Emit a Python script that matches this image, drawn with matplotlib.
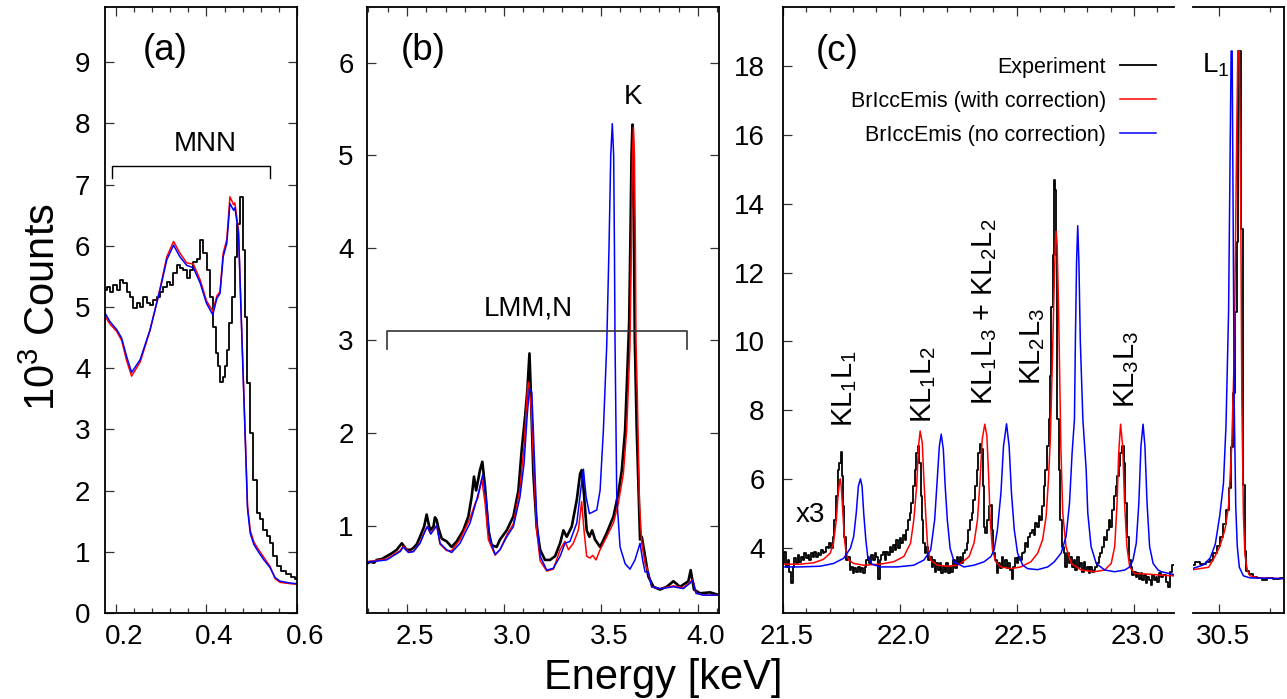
import numpy as np
import matplotlib
matplotlib.use("Agg")
import matplotlib.pyplot as plt
from matplotlib.ticker import MultipleLocator
from matplotlib.transforms import ScaledTranslation

plt.rcParams['font.family'] = ['Liberation Sans', 'DejaVu Sans']
plt.rcParams['mathtext.fontset'] = 'custom'
plt.rcParams['mathtext.rm'] = 'Liberation Sans'
plt.rcParams['mathtext.it'] = 'Liberation Sans:italic'
plt.rcParams['mathtext.default'] = 'regular'

# ── Panel (a): MNN region ────────────────────────────────────────────────────
A_SIM_X = [0.175, 0.186, 0.201, 0.212, 0.223, 0.234, 0.253, 0.275, 0.297, 0.312,
           0.327, 0.341, 0.356, 0.371, 0.386, 0.400, 0.414, 0.423, 0.430, 0.437,
           0.445, 0.452, 0.460, 0.463, 0.471, 0.478, 0.485, 0.491, 0.497, 0.505,
           0.515, 0.526, 0.541, 0.552, 0.563, 0.585, 0.600]
A_BLUE = [4.90, 4.76, 4.63, 4.49, 4.19, 3.93, 4.14, 4.63, 5.28, 5.77,
          6.01, 5.82, 5.68, 5.64, 5.39, 5.06, 4.87, 5.14, 5.22, 5.82,
          6.04, 6.69, 6.58, 6.62, 6.20, 4.60, 3.05, 1.70, 1.30, 1.12,
          1.00, 0.88, 0.74, 0.58, 0.52, 0.49, 0.48]
A_RED = [4.85, 4.72, 4.60, 4.45, 4.12, 3.87, 4.10, 4.62, 5.30, 5.82,
         6.07, 5.88, 5.72, 5.70, 5.44, 5.10, 4.93, 5.18, 5.25, 5.88,
         6.10, 6.80, 6.67, 6.70, 6.25, 4.65, 3.10, 1.75, 1.35, 1.16,
         1.04, 0.92, 0.76, 0.56, 0.50, 0.48, 0.47]
A_EXP_X = [0.175, 0.182, 0.190, 0.197, 0.205, 0.212, 0.219, 0.227, 0.234, 0.242,
           0.249, 0.256, 0.264, 0.271, 0.278, 0.286, 0.293, 0.301, 0.308, 0.315,
           0.323, 0.330, 0.338, 0.345, 0.352, 0.360, 0.367, 0.375, 0.382, 0.389,
           0.397, 0.404, 0.411, 0.417, 0.423, 0.428, 0.434, 0.439, 0.445, 0.448,
           0.454, 0.460, 0.465, 0.471, 0.478, 0.483, 0.488, 0.493, 0.500, 0.508,
           0.515, 0.522, 0.530, 0.537, 0.545, 0.552, 0.559, 0.570, 0.582, 0.593,
           0.600]
A_EXP = [5.28, 5.33, 5.25, 5.36, 5.28, 5.44, 5.39, 5.25, 5.17, 4.98,
         5.06, 5.00, 5.17, 5.06, 5.03, 5.11, 5.17, 5.25, 5.33, 5.41,
         5.36, 5.55, 5.68, 5.63, 5.60, 5.47, 5.60, 5.74, 5.79, 6.09,
         5.88, 5.60, 5.17, 4.68, 4.24, 4.03, 3.78, 3.86, 4.03, 4.30,
         4.73, 5.17, 5.82, 6.36, 6.80, 5.93, 4.84, 3.75, 2.94, 2.18,
         1.64, 1.53, 1.36, 1.26, 1.15, 0.93, 0.77, 0.68, 0.63, 0.58,
         0.55]

# ── Panel (b): LMM,N and K region (x, y) ─────────────────────────────────────
B_BLUE = [(2.292, 0.605), (2.395, 0.63), (2.464, 0.72), (2.481, 0.77), (2.507, 0.71),
          (2.533, 0.72), (2.567, 0.81), (2.593, 0.94), (2.605, 0.99), (2.622, 0.91),
          (2.636, 0.95), (2.653, 1.00), (2.670, 0.81), (2.704, 0.74), (2.730, 0.71),
          (2.773, 0.81), (2.825, 1.03), (2.859, 1.28), (2.876, 1.42), (2.890, 1.55),
          (2.907, 1.31), (2.928, 0.85), (2.954, 0.69), (2.979, 0.74), (3.014, 0.88),
          (3.048, 0.99), (3.082, 1.31), (3.103, 1.67), (3.120, 2.21), (3.131, 2.48),
          (3.143, 2.44), (3.151, 2.03), (3.168, 1.10), (3.186, 0.67), (3.220, 0.52),
          (3.254, 0.54), (3.289, 0.67), (3.314, 0.81), (3.340, 0.83), (3.375, 1.03),
          (3.395, 1.38), (3.409, 1.61), (3.423, 1.31), (3.440, 1.13), (3.460, 1.15),
          (3.478, 1.17), (3.495, 1.38), (3.512, 2.03), (3.529, 2.93), (3.541, 4.00),
          (3.550, 5.00), (3.558, 5.34), (3.565, 5.00), (3.569, 4.00), (3.572, 3.00),
          (3.581, 1.31), (3.598, 0.77), (3.624, 0.59), (3.649, 0.53), (3.675, 0.63),
          (3.701, 0.81), (3.715, 0.62), (3.727, 0.50), (3.744, 0.50), (3.761, 0.34),
          (3.804, 0.32), (3.873, 0.34), (3.924, 0.32), (3.959, 0.38), (3.973, 0.41),
          (3.990, 0.27), (4.027, 0.25), (4.108, 0.25)]
B_RED = [(2.292, 0.61), (2.395, 0.64), (2.464, 0.73), (2.481, 0.78), (2.507, 0.72),
         (2.533, 0.72), (2.567, 0.82), (2.593, 0.95), (2.605, 0.99), (2.622, 0.91),
         (2.636, 0.96), (2.653, 1.00), (2.670, 0.80), (2.704, 0.73), (2.730, 0.73),
         (2.773, 0.85), (2.825, 1.08), (2.851, 1.24), (2.865, 1.30), (2.885, 1.50),
         (2.902, 1.25), (2.919, 0.85), (2.954, 0.68), (2.979, 0.74), (3.014, 0.90),
         (3.048, 1.02), (3.082, 1.40), (3.103, 1.85), (3.120, 2.45), (3.125, 2.55),
         (3.139, 2.30), (3.151, 1.74), (3.168, 0.95), (3.186, 0.62), (3.220, 0.51),
         (3.254, 0.53), (3.289, 0.74), (3.314, 0.83), (3.332, 0.74), (3.357, 0.81),
         (3.383, 0.95), (3.400, 1.26), (3.412, 0.95), (3.426, 0.67), (3.443, 0.65),
         (3.457, 0.68), (3.474, 0.63), (3.495, 0.74), (3.529, 0.88), (3.564, 1.03),
         (3.589, 1.24), (3.615, 1.56), (3.632, 2.03), (3.649, 2.93), (3.656, 4.00),
         (3.662, 5.00), (3.667, 5.30), (3.672, 5.00), (3.677, 4.00), (3.680, 3.00),
         (3.687, 2.39), (3.698, 1.24), (3.710, 0.81), (3.727, 0.59), (3.744, 0.49),
         (3.761, 0.34), (3.804, 0.32), (3.873, 0.35), (3.924, 0.33), (3.959, 0.39),
         (3.973, 0.42), (3.990, 0.27), (4.027, 0.25), (4.108, 0.25)]
B_EXP = [(2.292, 0.59), (2.310, 0.61), (2.330, 0.60), (2.344, 0.63), (2.370, 0.64),
         (2.395, 0.67), (2.420, 0.70), (2.447, 0.74), (2.473, 0.81), (2.498, 0.74),
         (2.520, 0.74), (2.533, 0.76), (2.550, 0.80), (2.567, 0.88), (2.588, 0.99),
         (2.601, 1.12), (2.608, 1.05), (2.619, 0.95), (2.636, 0.99), (2.644, 1.09),
         (2.653, 1.06), (2.662, 0.97), (2.679, 0.86), (2.704, 0.83), (2.730, 0.77),
         (2.756, 0.83), (2.790, 0.95), (2.816, 1.10), (2.833, 1.31), (2.845, 1.53),
         (2.856, 1.38), (2.876, 1.60), (2.888, 1.69), (2.902, 1.42), (2.919, 0.95),
         (2.936, 0.79), (2.962, 0.77), (2.979, 0.85), (3.014, 0.95), (3.048, 1.10),
         (3.074, 1.38), (3.091, 1.82), (3.108, 2.17), (3.120, 2.46), (3.131, 2.86),
         (3.139, 2.39), (3.151, 1.56), (3.168, 0.99), (3.186, 0.74), (3.211, 0.63),
         (3.237, 0.63), (3.263, 0.67), (3.289, 0.81), (3.306, 0.95), (3.323, 0.88),
         (3.349, 0.99), (3.375, 1.28), (3.392, 1.56), (3.400, 1.60), (3.409, 1.42),
         (3.426, 0.95), (3.440, 0.88), (3.454, 0.95), (3.469, 0.85), (3.495, 0.77),
         (3.529, 0.92), (3.564, 1.10), (3.589, 1.35), (3.607, 1.60), (3.624, 2.03),
         (3.637, 2.75), (3.645, 3.20), (3.652, 4.20), (3.657, 5.00), (3.662, 5.33),
         (3.666, 5.00), (3.670, 4.00), (3.674, 3.00), (3.684, 2.03), (3.696, 1.20),
         (3.701, 0.85), (3.710, 0.88), (3.727, 0.67), (3.744, 0.45), (3.770, 0.34),
         (3.804, 0.31), (3.838, 0.34), (3.873, 0.40), (3.907, 0.34), (3.950, 0.40),
         (3.962, 0.52), (3.979, 0.31), (4.010, 0.27), (4.062, 0.28), (4.108, 0.25)]

# ── Panel (c): KLL region, scaled x3 (x, y) ─────────────────────────────────
C_RED = [(21.500, 3.52), (21.574, 3.52), (21.632, 3.56), (21.674, 3.66), (21.703, 3.84),
         (21.717, 4.13), (21.729, 4.81), (21.736, 5.49), (21.743, 5.93), (21.746, 6.00),
         (21.750, 5.78), (21.757, 5.00), (21.764, 4.23), (21.771, 3.84), (21.782, 3.64),
         (21.803, 3.54), (21.846, 3.49), (21.917, 3.52), (21.974, 3.59), (22.017, 3.74),
         (22.046, 4.13), (22.060, 4.81), (22.072, 5.78), (22.080, 6.95), (22.087, 7.39),
         (22.096, 7.05), (22.103, 5.98), (22.112, 4.81), (22.120, 3.93), (22.132, 3.64),
         (22.160, 3.49), (22.203, 3.46), (22.246, 3.49), (22.260, 3.54), (22.296, 3.74),
         (22.317, 4.13), (22.332, 4.81), (22.343, 5.98), (22.352, 7.15), (22.363, 7.59),
         (22.372, 7.25), (22.379, 6.17), (22.386, 4.81), (22.396, 3.93), (22.410, 3.59),
         (22.432, 3.44), (22.475, 3.39), (22.517, 3.44), (22.560, 3.59), (22.589, 3.84),
         (22.610, 4.23), (22.625, 4.91), (22.635, 5.98), (22.643, 7.15), (22.652, 9.50),
         (22.659, 11.5), (22.665, 13.0), (22.668, 13.2), (22.672, 12.8), (22.678, 11.0),
         (22.683, 9.00), (22.688, 6.90), (22.696, 5.00), (22.710, 4.03), (22.732, 3.54),
         (22.775, 3.35), (22.832, 3.30), (22.875, 3.35), (22.903, 3.54), (22.918, 4.03),
         (22.928, 5.30), (22.935, 6.76), (22.943, 7.59), (22.952, 6.95), (22.960, 5.30),
         (22.970, 4.03), (22.982, 3.44), (23.003, 3.25), (23.061, 3.23), (23.117, 3.20),
         (23.169, 3.18)]
C_BLUE = [(21.500, 3.44), (21.574, 3.44), (21.660, 3.46), (21.717, 3.54), (21.760, 3.69),
          (21.789, 3.98), (21.803, 4.32), (21.814, 5.00), (21.823, 5.78), (21.832, 6.00),
          (21.839, 5.78), (21.846, 5.00), (21.855, 4.23), (21.863, 3.74), (21.881, 3.52),
          (21.917, 3.44), (21.989, 3.44), (22.060, 3.49), (22.103, 3.64), (22.132, 3.93),
          (22.149, 4.81), (22.160, 5.98), (22.169, 6.95), (22.177, 7.30), (22.186, 6.86),
          (22.194, 5.78), (22.203, 4.81), (22.215, 3.98), (22.232, 3.59), (22.274, 3.44),
          (22.317, 3.49), (22.360, 3.59), (22.389, 3.74), (22.403, 3.93), (22.417, 4.52),
          (22.432, 5.59), (22.443, 6.95), (22.456, 7.60), (22.467, 6.95), (22.477, 5.59),
          (22.489, 4.52), (22.503, 3.84), (22.525, 3.49), (22.546, 3.39), (22.589, 3.36),
          (22.632, 3.44), (22.660, 3.59), (22.689, 3.84), (22.710, 4.32), (22.725, 5.30),
          (22.736, 6.76), (22.746, 7.73), (22.750, 10.0), (22.755, 12.3), (22.760, 13.36),
          (22.765, 12.3), (22.771, 10.0), (22.782, 7.73), (22.796, 6.27), (22.803, 5.00),
          (22.817, 4.03), (22.839, 3.54), (22.875, 3.35), (22.918, 3.30), (22.961, 3.35),
          (22.982, 3.44), (22.996, 3.64), (23.010, 4.13), (23.021, 5.30), (23.030, 6.95),
          (23.039, 7.59), (23.047, 6.95), (23.056, 5.30), (23.067, 4.03), (23.082, 3.54),
          (23.103, 3.35), (23.117, 3.30), (23.169, 3.22)]
C_EXP = [(21.500, 3.54), (21.510, 3.88), (21.517, 3.45), (21.524, 3.64), (21.531, 3.30),
         (21.539, 2.96), (21.546, 3.45), (21.553, 3.69), (21.560, 3.54), (21.567, 3.79),
         (21.574, 3.59), (21.582, 3.74), (21.589, 3.64), (21.596, 3.84), (21.603, 3.69),
         (21.610, 3.79), (21.617, 3.64), (21.624, 3.84), (21.632, 3.74), (21.639, 3.88),
         (21.646, 3.74), (21.653, 3.84), (21.660, 3.79), (21.667, 3.93), (21.674, 3.84),
         (21.682, 3.88), (21.689, 4.03), (21.696, 3.98), (21.703, 4.13), (21.710, 3.98),
         (21.717, 4.32), (21.724, 4.81), (21.732, 5.49), (21.739, 6.27), (21.746, 6.47),
         (21.750, 6.79), (21.756, 6.08), (21.760, 5.20), (21.767, 4.32), (21.774, 3.64),
         (21.782, 3.74), (21.789, 3.35), (21.796, 3.45), (21.803, 3.25), (21.810, 3.40),
         (21.817, 3.30), (21.824, 3.45), (21.832, 3.30), (21.839, 3.40), (21.846, 3.25),
         (21.853, 3.45), (21.860, 3.64), (21.867, 3.74), (21.874, 3.54), (21.882, 3.79),
         (21.889, 3.64), (21.896, 3.84), (21.903, 3.74), (21.910, 3.10), (21.917, 3.64),
         (21.924, 3.79), (21.932, 3.88), (21.939, 3.64), (21.946, 3.88), (21.953, 3.79),
         (21.960, 4.03), (21.967, 3.88), (21.974, 4.08), (21.982, 3.93), (21.989, 4.23),
         (21.996, 3.98), (22.003, 4.27), (22.010, 4.13), (22.017, 4.37), (22.024, 4.23),
         (22.032, 4.52), (22.039, 4.81), (22.046, 5.00), (22.053, 5.30), (22.060, 5.78),
         (22.067, 6.27), (22.074, 6.76), (22.080, 6.95), (22.086, 6.47), (22.092, 5.49),
         (22.097, 4.81), (22.103, 4.13), (22.110, 3.84), (22.117, 4.03), (22.124, 3.64),
         (22.132, 3.74), (22.139, 3.45), (22.146, 3.64), (22.153, 3.30), (22.160, 3.54),
         (22.167, 3.35), (22.174, 3.54), (22.182, 3.25), (22.189, 3.45), (22.196, 3.30),
         (22.203, 3.54), (22.210, 3.25), (22.217, 3.45), (22.224, 3.30), (22.232, 3.64),
         (22.239, 3.40), (22.246, 3.74), (22.253, 3.54), (22.260, 3.74), (22.267, 3.54),
         (22.275, 3.84), (22.282, 3.93), (22.289, 4.13), (22.296, 4.52), (22.303, 4.81),
         (22.310, 5.00), (22.317, 5.39), (22.325, 5.78), (22.332, 6.27), (22.339, 6.76),
         (22.346, 7.00), (22.352, 6.86), (22.357, 5.78), (22.363, 4.61), (22.369, 4.42),
         (22.375, 4.81), (22.383, 5.20), (22.392, 5.25), (22.397, 4.52), (22.403, 3.84),
         (22.410, 3.64), (22.417, 3.25), (22.425, 3.54), (22.432, 3.40), (22.439, 3.74),
         (22.446, 3.45), (22.453, 3.64), (22.460, 3.40), (22.468, 3.54), (22.475, 3.35),
         (22.482, 3.10), (22.489, 3.45), (22.496, 3.69), (22.503, 3.54), (22.510, 3.74),
         (22.518, 3.64), (22.525, 3.84), (22.532, 3.88), (22.539, 4.13), (22.546, 4.03),
         (22.553, 4.32), (22.560, 4.42), (22.568, 4.52), (22.575, 4.37), (22.582, 4.71),
         (22.589, 4.61), (22.596, 4.91), (22.603, 4.81), (22.610, 5.20), (22.618, 5.78),
         (22.625, 6.27), (22.632, 6.95), (22.639, 7.73), (22.644, 9.00), (22.650, 11.0),
         (22.655, 12.5), (22.660, 14.7), (22.665, 14.4), (22.669, 12.5), (22.672, 10.0),
         (22.675, 7.73), (22.682, 6.27), (22.689, 4.81), (22.696, 4.03), (22.703, 3.84),
         (22.710, 3.45), (22.718, 3.84), (22.725, 3.54), (22.732, 3.74), (22.739, 3.45),
         (22.746, 3.64), (22.753, 3.35), (22.760, 3.74), (22.768, 3.45), (22.775, 3.54),
         (22.782, 3.30), (22.789, 3.59), (22.796, 3.35), (22.803, 3.45), (22.810, 3.25),
         (22.818, 3.45), (22.825, 3.30), (22.832, 3.35), (22.839, 3.45), (22.846, 3.54),
         (22.853, 3.74), (22.860, 3.84), (22.868, 4.03), (22.875, 4.32), (22.882, 4.23),
         (22.889, 4.52), (22.896, 4.81), (22.903, 4.61), (22.910, 5.10), (22.918, 5.49),
         (22.925, 5.78), (22.932, 6.08), (22.939, 6.37), (22.946, 6.76), (22.953, 6.95),
         (22.960, 6.47), (22.968, 5.30), (22.975, 4.32), (22.982, 3.64), (22.989, 3.45),
         (22.996, 3.20), (23.003, 3.30), (23.011, 3.15), (23.018, 3.25), (23.025, 3.10),
         (23.032, 3.25), (23.039, 3.06), (23.046, 3.20), (23.053, 2.96), (23.061, 3.15),
         (23.068, 3.06), (23.075, 2.91), (23.082, 3.20), (23.089, 3.06), (23.096, 3.15),
         (23.103, 3.01), (23.110, 3.25), (23.118, 3.15), (23.130, 3.20), (23.140, 3.00),
         (23.150, 2.85), (23.160, 3.30), (23.169, 3.50)]

# ── Panel (c), right part: L1 line (x, y) ───────────────────────────────────
L_EXP = [(30.449, 3.49), (30.456, 3.58), (30.469, 3.52), (30.479, 3.58), (30.485, 3.65),
         (30.492, 3.84), (30.498, 4.04), (30.505, 4.30), (30.511, 4.69), (30.516, 5.09),
         (30.521, 5.74), (30.525, 6.92), (30.529, 8.49), (30.533, 10.85), (30.535, 12.88),
         (30.538, 18.44), (30.540, 18.44), (30.544, 13.27), (30.548, 5.81), (30.551, 3.91),
         (30.555, 3.32), (30.560, 3.23), (30.570, 3.15), (30.579, 3.12), (30.589, 3.05),
         (30.599, 3.12), (30.610, 3.08), (30.627, 3.12)]
L_RED = [(30.449, 3.36), (30.479, 3.43), (30.488, 3.65), (30.501, 4.04), (30.511, 4.53),
         (30.518, 5.22), (30.524, 6.92), (30.529, 9.50), (30.533, 14.8), (30.536, 18.44),
         (30.539, 18.44), (30.542, 13.5), (30.544, 8.20), (30.547, 4.96), (30.550, 3.78),
         (30.555, 3.32), (30.560, 3.18), (30.579, 3.12), (30.627, 3.10)]
L_BLUE = [(30.449, 3.40), (30.469, 3.50), (30.482, 3.70), (30.492, 4.10), (30.501, 4.96),
          (30.508, 5.87), (30.513, 7.57), (30.518, 10.85), (30.521, 15.4), (30.523, 18.44),
          (30.525, 18.44), (30.527, 13.5), (30.529, 8.20), (30.532, 5.22), (30.535, 4.04),
          (30.539, 3.43), (30.547, 3.18), (30.560, 3.12), (30.627, 3.10)]

PEAK_LABELS = ["KL$_1$L$_1$", "KL$_1$L$_2$", "KL$_1$L$_3$ + KL$_2$L$_2$",
               "KL$_2$L$_3$", "KL$_3$L$_3$"]
PEAK_POS = [(21.766, 7.51), (22.100, 7.63), (22.364, 8.15), (22.566, 8.73), (22.970, 8.06)]

LEGEND_LABELS = ["Experiment", "BrIccEmis (with correction)", "BrIccEmis (no correction)"]

# ── Layout (pixel boxes of the reference) ───────────────────────────────────
W, H = 1287, 699
fig = plt.figure(figsize=(W / 100, H / 100), dpi=100)


def box(l, r, t, b):
    return [l / W, 1 - b / H, (r - l) / W, (b - t) / H]


ax_a = fig.add_axes(box(105, 296.7, 7, 613))
ax_b = fig.add_axes(box(366.7, 719, 7, 613))
ax_c = fig.add_axes(box(782.7, 1173.5, 7, 613))
ax_d = fig.add_axes(box(1193.3, 1284.3, 7, 613))


def xy(pairs):
    return [p[0] for p in pairs], [p[1] for p in pairs]


LW = 1.1
# (a)
ax_a.plot(A_EXP_X, A_EXP, color="black", lw=1.3, drawstyle="steps-mid")
ax_a.plot(A_SIM_X, A_RED, color="red", lw=LW)
ax_a.plot(A_SIM_X, A_BLUE, color="blue", lw=LW)
# (b)
ax_b.plot(*xy(B_EXP), color="black", lw=1.9)
ax_b.plot(*xy(B_RED), color="red", lw=LW)
ax_b.plot(*xy(B_BLUE), color="blue", lw=LW)
# (c)
l_exp, = ax_c.plot(*xy(C_EXP), color="black", lw=1.3, drawstyle="steps-mid")
l_red, = ax_c.plot(*xy(C_RED), color="red", lw=LW)
l_blue, = ax_c.plot(*xy(C_BLUE), color="blue", lw=LW)
ax_d.plot(*xy(L_EXP), color="black", lw=1.3, drawstyle="steps-mid")
ax_d.plot(*xy(L_RED), color="red", lw=LW)
ax_d.plot(*xy(L_BLUE), color="blue", lw=LW)

ax_a.set_xlim(0.175, 0.6)
ax_a.set_ylim(0, 9.9)
ax_b.set_xlim(2.292, 4.108)
ax_b.set_ylim(0.057, 6.6)
ax_c.set_xlim(21.5, 23.169)
ax_c.set_ylim(2.1, 19.72)
ax_d.set_xlim(30.449, 30.627)
ax_d.set_ylim(2.1, 19.72)


def style(ax, xt, xfmt, xminor, yt, ypad, shift, left=True, right=True):
    ax.set_xticks(xt, labels=[xfmt.format(v) for v in xt])
    if xminor:
        ax.xaxis.set_minor_locator(MultipleLocator(xminor))
    if yt is not None:
        ax.set_yticks(yt, labels=[str(v) for v in yt])
    else:
        ax.set_yticks([])
    ax.tick_params(which="both", direction="in", top=True, bottom=True,
                   left=left, right=right, color="#333333", width=0.9,
                   labelsize=20)
    ax.tick_params(which="major", length=6.5)
    ax.tick_params(which="minor", length=3.5)
    ax.tick_params(axis="x", pad=8)
    ax.tick_params(axis="y", pad=ypad)
    for sp in ax.spines.values():
        sp.set_linewidth(1.3)
    off = ScaledTranslation(shift / 100, 0, fig.dpi_scale_trans)
    for lbl in ax.get_xticklabels():
        lbl.set_transform(lbl.get_transform() + off)


style(ax_a, [0.2, 0.4, 0.6], "{:.1f}", 0.04, list(range(0, 10)), 10.5, 8)
style(ax_b, [2.5, 3.0, 3.5, 4.0], "{:.1f}", 0.1, list(range(1, 7)), 9.5, 8)
style(ax_c, [21.5, 22.0, 22.5, 23.0], "{:.1f}", 0.1, list(range(4, 19, 2)), 13, 4,
      right=False)
style(ax_d, [30.5], "{:.1f}", 0.1, None, 5, 4, left=False, right=False)
ax_c.spines["right"].set_visible(False)
ax_d.spines["left"].set_visible(False)

# annotations
ax_a.text(0.309, 9.19, "(a)", fontsize=26.5, ha="center", va="center")
ax_a.plot([0.190, 0.190, 0.541, 0.541], [7.10, 7.31, 7.31, 7.10], color="black", lw=1)
ax_a.text(0.398, 7.66, "MNN", fontsize=20, ha="center", va="center")

ax_b.text(2.581, 6.13, "(b)", fontsize=26.5, ha="center", va="center")
ax_b.plot([2.395, 2.395, 3.942, 3.942], [2.91, 3.10, 3.10, 2.91], color="#333333", lw=1.2)
ax_b.text(3.125, 3.35, "LMM,N", fontsize=20, ha="center", va="center")
ax_b.text(3.667, 5.63, "K", fontsize=20, ha="center", va="center")

ax_c.text(21.732, 18.44, "(c)", fontsize=26.5, ha="center", va="center")
ax_c.text(21.62, 4.95, "x3", fontsize=20, ha="center", va="center")
for lab, (px, py) in zip(PEAK_LABELS, PEAK_POS):
    ax_c.text(px, py, lab, fontsize=21, rotation=90, ha="center", va="bottom")
ax_d.text(30.466, 17.83, "L$_1$", fontsize=20, ha="left", va="baseline")

ax_c.legend([l_exp, l_red, l_blue], LEGEND_LABELS, loc="upper right",
            bbox_to_anchor=(0.955, 0.918), frameon=False, markerfirst=False,
            fontsize=15.5, handlelength=1.66, handletextpad=0.65,
            labelspacing=0.6, borderpad=0, borderaxespad=0)

fig.text(55 / W, 1 - 307.5 / H, "10$^3$ Counts", fontsize=30, rotation=90,
         rotation_mode="anchor", ha="center", va="baseline")
fig.text(663.5 / W, (H - 689) / H, "Energy [keV]", fontsize=30,
         ha="center", va="baseline")

fig.savefig("out.png", dpi=100, facecolor="white")
